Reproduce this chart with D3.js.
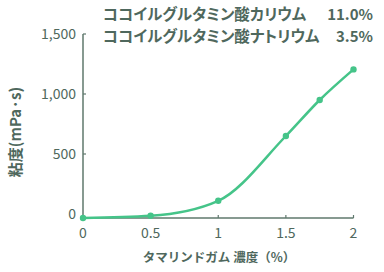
<!DOCTYPE html>
<html>
<head>
<meta charset="utf-8">
<script src="https://cdn.jsdelivr.net/npm/d3@7"></script>
<style>
  body { margin: 0; background: #fff; }
  svg { display: block; font-family: "Noto Sans CJK JP", "Noto Sans", sans-serif; }
  .legend-name { font-feature-settings: "palt"; }
</style>
</head>
<body>
<div id="chart"></div>
<script>
// concentration (%) vs viscosity (mPa·s)
var concentration = [0, 0.5, 1, 1.5, 1.75, 2]
var viscosity = [-33, -15, 110, 650, 950, 1205]
var xTicks = [0, 0.5, 1, 1.5, 2]
var yTicks = [0, 500, 1000, 1500]
var legendNames = ["ココイルグルタミン酸カリウム", "ココイルグルタミン酸ナトリウム"]
var legendValues = ["11.0%", "3.5%"]

var width = 384
var height = 272
var lineColor = "#45c489"
var axisColor = "#5f786d"
var textColor = "#4f685d"

var svg = d3.select("#chart").append("svg")
  .attr("width", width)
  .attr("height", height)

var x = d3.scaleLinear().domain([0, 2]).range([83, 353.5])
var y = d3.scaleLinear().domain([0, 1500]).range([214, 34])
var yBottom = 218

// y axis
var yAxis = svg.append("g").attr("transform", "translate(83,0)")
yAxis.append("line")
  .attr("y1", y(1500)).attr("y2", yBottom)
  .attr("stroke", axisColor).attr("stroke-width", 1.5)
yAxis.selectAll(".tick").data(yTicks.slice(1)).enter().append("line")
  .attr("x1", 0).attr("x2", 3)
  .attr("y1", function (d) { return y(d) })
  .attr("y2", function (d) { return y(d) })
  .attr("stroke", axisColor).attr("stroke-width", 1.2)
yAxis.selectAll("text").data(yTicks).enter().append("text")
  .attr("x", -7)
  .attr("y", function (d) { return y(d) })
  .attr("dy", "0.35em")
  .attr("text-anchor", "end")
  .attr("font-size", 14)
  .attr("fill", textColor)
  .text(function (d) { return d3.format(",")(d) })

// x axis
var xAxis = svg.append("g").attr("transform", "translate(0," + yBottom + ")")
xAxis.append("line")
  .attr("x1", x(0)).attr("x2", x(2))
  .attr("stroke", axisColor).attr("stroke-width", 1.5)
xAxis.selectAll(".tick").data(xTicks.slice(1)).enter().append("line")
  .attr("x1", function (d) { return x(d) })
  .attr("x2", function (d) { return x(d) })
  .attr("y1", 0).attr("y2", -3)
  .attr("stroke", axisColor).attr("stroke-width", 1.2)
xAxis.selectAll("text").data(xTicks).enter().append("text")
  .attr("x", function (d) { return x(d) })
  .attr("y", 20)
  .attr("text-anchor", "middle")
  .attr("font-size", 14)
  .attr("fill", textColor)
  .text(function (d) { return d })

// axis titles
svg.append("text")
  .attr("x", 219).attr("y", 262)
  .attr("text-anchor", "middle")
  .attr("font-size", 12.5).attr("font-weight", "bold")
  .attr("fill", textColor)
  .text("タマリンドガム 濃度（%）")

svg.append("text")
  .attr("transform", "translate(21,132) rotate(-90)")
  .attr("text-anchor", "middle")
  .attr("font-size", 15).attr("font-weight", "bold")
  .attr("fill", textColor)
  .text("粘度(mPa·s)")

// line + points
var data = concentration.map(function (c, i) { return [c, viscosity[i]] })
var line = d3.line()
  .x(function (d) { return x(d[0]) })
  .y(function (d) { return Math.min(y(d[1]), yBottom) })
  .curve(d3.curveMonotoneX)

svg.append("path")
  .datum(data)
  .attr("d", line)
  .attr("fill", "none")
  .attr("stroke", lineColor)
  .attr("stroke-width", 2.5)

svg.selectAll(".dot").data(data).enter().append("circle")
  .attr("cx", function (d) { return x(d[0]) })
  .attr("cy", function (d) { return Math.min(y(d[1]), yBottom) })
  .attr("r", 3.2)
  .attr("fill", lineColor)

// legend text
var legend = svg.append("g")
legend.selectAll(".legend-name").data(legendNames).enter().append("text")
  .attr("class", "legend-name")
  .attr("x", 103)
  .attr("y", function (d, i) { return 20 + i * 22 })
  .attr("font-size", 15.5).attr("font-weight", "bold")
  .attr("fill", textColor)
  .text(function (d) { return d })
legend.selectAll(".legend-val").data(legendValues).enter().append("text")
  .attr("class", "legend-val")
  .attr("x", 373)
  .attr("y", function (d, i) { return 20 + i * 22 })
  .attr("text-anchor", "end")
  .attr("font-size", 15).attr("font-weight", "bold")
  .attr("fill", textColor)
  .text(function (d) { return d })
</script>
</body>
</html>
